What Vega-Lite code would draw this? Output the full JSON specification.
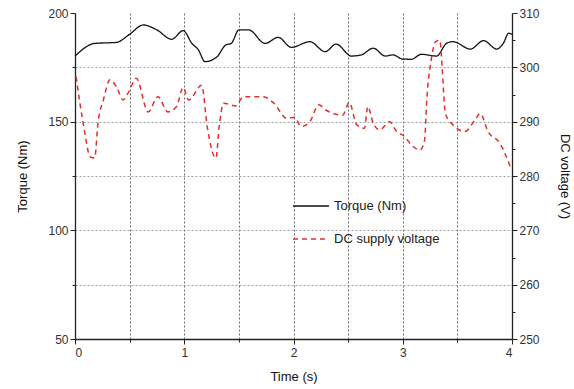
{
  "$schema": "https://vega.github.io/schema/vega-lite/v6.json",
  "width": 437,
  "height": 326,
  "autosize": {"type": "none"},
  "padding": {"left": 75, "top": 13, "right": 62, "bottom": 50},
  "background": "white",
  "config": {
    "view": {"stroke": null},
    "font": "Liberation Sans",
    "axis": {"labelFont": "Liberation Sans", "titleFont": "Liberation Sans", "labelFontSize": 12, "titleFontSize": 13, "titleFontWeight": "normal", "labelColor": "#333", "titleColor": "#111", "domainColor": "#222", "tickColor": "#222", "domainWidth": 1.3}
  },
  "datasets": {
    "torque": [
      {"t": 0.0, "v": 180.2, "s": "Torque (Nm)"},
      {"t": 0.18, "v": 186.0, "s": "Torque (Nm)"},
      {"t": 0.38, "v": 186.5, "s": "Torque (Nm)"},
      {"t": 0.5, "v": 190.2, "s": "Torque (Nm)"},
      {"t": 0.625, "v": 194.5, "s": "Torque (Nm)"},
      {"t": 0.75, "v": 192.2, "s": "Torque (Nm)"},
      {"t": 0.885, "v": 187.9, "s": "Torque (Nm)"},
      {"t": 0.99, "v": 191.9, "s": "Torque (Nm)"},
      {"t": 1.07, "v": 186.0, "s": "Torque (Nm)"},
      {"t": 1.13, "v": 183.0, "s": "Torque (Nm)"},
      {"t": 1.19, "v": 177.6, "s": "Torque (Nm)"},
      {"t": 1.3, "v": 179.9, "s": "Torque (Nm)"},
      {"t": 1.38, "v": 185.3, "s": "Torque (Nm)"},
      {"t": 1.43, "v": 186.0, "s": "Torque (Nm)"},
      {"t": 1.5, "v": 192.2, "s": "Torque (Nm)"},
      {"t": 1.59, "v": 192.2, "s": "Torque (Nm)"},
      {"t": 1.74, "v": 186.0, "s": "Torque (Nm)"},
      {"t": 1.86, "v": 188.8, "s": "Torque (Nm)"},
      {"t": 1.98, "v": 184.2, "s": "Torque (Nm)"},
      {"t": 2.15, "v": 186.8, "s": "Torque (Nm)"},
      {"t": 2.29, "v": 182.2, "s": "Torque (Nm)"},
      {"t": 2.39, "v": 185.7, "s": "Torque (Nm)"},
      {"t": 2.53, "v": 180.2, "s": "Torque (Nm)"},
      {"t": 2.62, "v": 180.7, "s": "Torque (Nm)"},
      {"t": 2.73, "v": 183.8, "s": "Torque (Nm)"},
      {"t": 2.84, "v": 180.2, "s": "Torque (Nm)"},
      {"t": 2.91, "v": 180.7, "s": "Torque (Nm)"},
      {"t": 3.0, "v": 178.8, "s": "Torque (Nm)"},
      {"t": 3.08, "v": 178.7, "s": "Torque (Nm)"},
      {"t": 3.17, "v": 181.0, "s": "Torque (Nm)"},
      {"t": 3.31, "v": 180.2, "s": "Torque (Nm)"},
      {"t": 3.4, "v": 186.0, "s": "Torque (Nm)"},
      {"t": 3.46, "v": 186.8, "s": "Torque (Nm)"},
      {"t": 3.62, "v": 183.4, "s": "Torque (Nm)"},
      {"t": 3.74, "v": 187.3, "s": "Torque (Nm)"},
      {"t": 3.86, "v": 183.4, "s": "Torque (Nm)"},
      {"t": 3.92, "v": 186.0, "s": "Torque (Nm)"},
      {"t": 3.97, "v": 190.7, "s": "Torque (Nm)"},
      {"t": 4.0, "v": 190.2, "s": "Torque (Nm)"}
    ],
    "voltage": [
      {"t": 0.01, "v": 298.3, "s": "DC supply voltage"},
      {"t": 0.08, "v": 289.1, "s": "DC supply voltage"},
      {"t": 0.14, "v": 283.5, "s": "DC supply voltage"},
      {"t": 0.18, "v": 283.3, "s": "DC supply voltage"},
      {"t": 0.21, "v": 289.7, "s": "DC supply voltage"},
      {"t": 0.26, "v": 294.0, "s": "DC supply voltage"},
      {"t": 0.32, "v": 297.7, "s": "DC supply voltage"},
      {"t": 0.38, "v": 296.4, "s": "DC supply voltage"},
      {"t": 0.44, "v": 294.0, "s": "DC supply voltage"},
      {"t": 0.5, "v": 295.8, "s": "DC supply voltage"},
      {"t": 0.56, "v": 298.0, "s": "DC supply voltage"},
      {"t": 0.67, "v": 291.8, "s": "DC supply voltage"},
      {"t": 0.76, "v": 294.6, "s": "DC supply voltage"},
      {"t": 0.85, "v": 291.8, "s": "DC supply voltage"},
      {"t": 0.93, "v": 292.8, "s": "DC supply voltage"},
      {"t": 0.99, "v": 296.3, "s": "DC supply voltage"},
      {"t": 1.04, "v": 294.0, "s": "DC supply voltage"},
      {"t": 1.16, "v": 296.7, "s": "DC supply voltage"},
      {"t": 1.21, "v": 289.1, "s": "DC supply voltage"},
      {"t": 1.29, "v": 283.3, "s": "DC supply voltage"},
      {"t": 1.32, "v": 289.1, "s": "DC supply voltage"},
      {"t": 1.36, "v": 293.4, "s": "DC supply voltage"},
      {"t": 1.47, "v": 292.9, "s": "DC supply voltage"},
      {"t": 1.54, "v": 294.6, "s": "DC supply voltage"},
      {"t": 1.72, "v": 294.6, "s": "DC supply voltage"},
      {"t": 1.82, "v": 293.4, "s": "DC supply voltage"},
      {"t": 1.94, "v": 290.6, "s": "DC supply voltage"},
      {"t": 2.01, "v": 290.8, "s": "DC supply voltage"},
      {"t": 2.07, "v": 289.1, "s": "DC supply voltage"},
      {"t": 2.15, "v": 290.0, "s": "DC supply voltage"},
      {"t": 2.23, "v": 293.1, "s": "DC supply voltage"},
      {"t": 2.3, "v": 292.1, "s": "DC supply voltage"},
      {"t": 2.45, "v": 291.2, "s": "DC supply voltage"},
      {"t": 2.51, "v": 293.5, "s": "DC supply voltage"},
      {"t": 2.58, "v": 289.4, "s": "DC supply voltage"},
      {"t": 2.65, "v": 288.8, "s": "DC supply voltage"},
      {"t": 2.68, "v": 292.8, "s": "DC supply voltage"},
      {"t": 2.73, "v": 289.7, "s": "DC supply voltage"},
      {"t": 2.79, "v": 288.5, "s": "DC supply voltage"},
      {"t": 2.88, "v": 290.0, "s": "DC supply voltage"},
      {"t": 2.94, "v": 288.3, "s": "DC supply voltage"},
      {"t": 3.02, "v": 287.2, "s": "DC supply voltage"},
      {"t": 3.08, "v": 285.7, "s": "DC supply voltage"},
      {"t": 3.16, "v": 284.8, "s": "DC supply voltage"},
      {"t": 3.2, "v": 286.6, "s": "DC supply voltage"},
      {"t": 3.22, "v": 294.0, "s": "DC supply voltage"},
      {"t": 3.26, "v": 301.3, "s": "DC supply voltage"},
      {"t": 3.3, "v": 304.7, "s": "DC supply voltage"},
      {"t": 3.34, "v": 305.0, "s": "DC supply voltage"},
      {"t": 3.36, "v": 300.1, "s": "DC supply voltage"},
      {"t": 3.39, "v": 291.5, "s": "DC supply voltage"},
      {"t": 3.46, "v": 289.4, "s": "DC supply voltage"},
      {"t": 3.57, "v": 288.2, "s": "DC supply voltage"},
      {"t": 3.66, "v": 290.3, "s": "DC supply voltage"},
      {"t": 3.71, "v": 291.5, "s": "DC supply voltage"},
      {"t": 3.78, "v": 288.2, "s": "DC supply voltage"},
      {"t": 3.89, "v": 286.0, "s": "DC supply voltage"},
      {"t": 3.99, "v": 281.4, "s": "DC supply voltage"}
    ]
  },
  "encoding": {
    "x": {"field": "t", "type": "quantitative", "scale": {"domain": [0, 4], "nice": false},
      "axis": {"title": "Time (s)", "values": [0, 0.5, 1, 1.5, 2, 2.5, 3, 3.5, 4], "labelExpr": "datum.value % 1 == 0 ? format(datum.value, 'd') : ''", "grid": true, "gridDash": [2, 2], "gridColor": "#444", "gridWidth": 0.8, "gridOpacity": {"condition": {"test": "datum.value == 0 || datum.value == 4", "value": 0}, "value": 1}, "tickSize": {"condition": {"test": "datum.value % 1 == 0", "value": 5}, "value": 3}, "labelPadding": 3, "titlePadding": 12}}
  },
  "layer": [
    {
      "data": {"name": "torque"},
      "mark": {"type": "line", "strokeWidth": 1.3, "interpolate": "monotone"},
      "encoding": {
        "y": {"field": "v", "type": "quantitative", "scale": {"domain": [50, 200], "nice": false, "zero": false},
          "axis": {"orient": "left", "title": "Torque (Nm)", "values": [50, 75, 100, 125, 150, 175, 200], "labelExpr": "datum.value % 50 == 0 ? datum.label : ''", "grid": true, "gridDash": [2, 2], "gridColor": "#888", "gridWidth": 0.8, "gridOpacity": {"condition": {"test": "datum.value == 50 || datum.value == 200", "value": 0}, "value": 1}, "tickSize": {"condition": {"test": "datum.value % 50 == 0", "value": 5}, "value": 3}, "titlePadding": 18}},
        "color": {"field": "s", "type": "nominal", "scale": {"domain": ["Torque (Nm)", "DC supply voltage"], "range": ["#111111", "#e0302a"]},
          "legend": {"title": null, "orient": "none", "legendX": 217, "legendY": 174, "symbolType": "stroke", "symbolSize": 1300, "symbolStrokeWidth": 1.5, "labelFontSize": 13, "labelFont": "Liberation Sans", "labelColor": "#222", "labelOffset": 4, "rowPadding": 7}},
        "strokeDash": {"field": "s", "type": "nominal", "scale": {"domain": ["Torque (Nm)", "DC supply voltage"], "range": [[1, 0], [5, 4]]}, "legend": null}
      }
    },
    {
      "data": {"name": "voltage"},
      "mark": {"type": "line", "strokeWidth": 1.5, "interpolate": "monotone"},
      "encoding": {
        "y": {"field": "v", "type": "quantitative", "scale": {"domain": [250, 310], "nice": false, "zero": false},
          "axis": {"orient": "right", "title": "DC voltage (V)", "values": [250, 255, 260, 265, 270, 275, 280, 285, 290, 295, 300, 305, 310], "labelExpr": "datum.value % 10 == 0 ? datum.label : ''", "grid": false, "tickSize": {"condition": {"test": "datum.value % 10 == 0", "value": 5}, "value": 3}, "titlePadding": 18}},
        "color": {"field": "s", "type": "nominal"},
        "strokeDash": {"field": "s", "type": "nominal"}
      }
    }
  ],
  "resolve": {"scale": {"y": "independent"}}
}
